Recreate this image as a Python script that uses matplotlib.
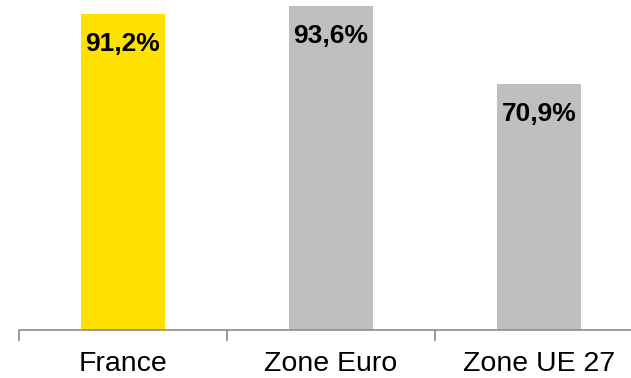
import numpy as np
import matplotlib
matplotlib.use("Agg")
from matplotlib import pyplot as plt

categories = ["France", "Zone Euro", "Zone UE 27"]
values = [91.2, 93.6, 70.9]
labels = ["91,2%", "93,6%", "70,9%"]
colors = ["#FFE100", "#BFBFBF", "#BFBFBF"]

plt.rcParams['font.family'] = ['Liberation Sans', 'DejaVu Sans']

fig = plt.figure(figsize=(6.31, 3.78), dpi=100)
ax = fig.add_axes([19 / 631, 48 / 378, 624 / 631, 330 / 378])

x = np.arange(len(categories))
ax.bar(x, values, width=0.4, color=colors)

# value labels sit inside the top of each bar
for xi, v, lab in zip(x, values, labels):
    ax.annotate(lab, (xi, v), xytext=(0, -30), textcoords="offset pixels",
                ha="center", va="center", fontsize=19, fontweight="bold")

ax.set_xlim(-0.5, 2.5)
ax.set_ylim(0, 95.3)

for side in ["top", "right", "left"]:
    ax.spines[side].set_visible(False)
ax.spines["bottom"].set_color("#8C8C8C")
ax.spines["bottom"].set_linewidth(1.2)

ax.set_yticks([])
ax.set_xticks(x)
ax.set_xticklabels(categories, fontsize=20.5)
ax.tick_params(axis="x", which="major", length=0, pad=15)
ax.set_xticks([-0.5, 0.5, 1.5, 2.5], minor=True)
ax.tick_params(axis="x", which="minor", length=8, width=1.2,
               color="#8C8C8C", direction="out")

fig.savefig("out.png", dpi=100)
